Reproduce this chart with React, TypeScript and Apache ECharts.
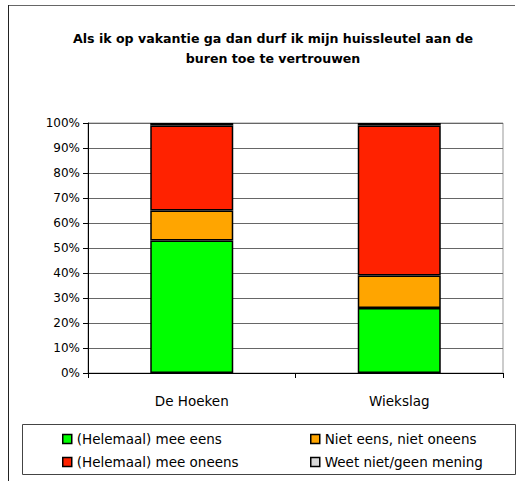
import React, { useEffect, useRef } from "react";
import * as echarts from "echarts";

const categories = ["De Hoeken", "Wiekslag"];
const eens = [53, 26];
const neutraal = [12, 13];
const oneens = [34, 60];
const weetNiet = [1, 1];
const yTicks = [0, 10, 20, 30, 40, 50, 60, 70, 80, 90, 100];

const FONT = "DejaVu Sans";

export default function App() {
  const ref = useRef<HTMLDivElement>(null);
  useEffect(() => {
    if (!ref.current) return;
    const chart = echarts.init(ref.current, null, { renderer: "svg" });
    const barStyle = (color: string) => ({
      color,
      borderColor: "#000",
      borderWidth: 1.5,
    });
    const legendText = { fontFamily: FONT, fontSize: 13.5, color: "#000" };
    chart.setOption({
      animation: false,
      backgroundColor: "#fff",
      title: {
        text: "Als ik op vakantie ga dan durf ik mijn huissleutel aan de\nburen toe te vertrouwen",
        left: 268,
        textAlign: "center",
        top: 23,
        textStyle: {
          fontFamily: FONT,
          fontSize: 12.6,
          fontWeight: "bold",
          color: "#000",
          lineHeight: 20,
        },
      },
      grid: {
        left: 88,
        right: 18,
        top: 123,
        bottom: 108,
        show: true,
        borderColor: "#999",
        borderWidth: 1,
      },
      xAxis: {
        type: "category",
        data: categories,
        axisLine: { lineStyle: { color: "#000", width: 1 } },
        axisTick: { show: true, length: 5, lineStyle: { color: "#000" } },
        axisLabel: {
          fontFamily: FONT,
          fontSize: 13.5,
          color: "#000",
          margin: 21,
        },
      },
      yAxis: {
        type: "value",
        min: yTicks[0],
        max: yTicks[yTicks.length - 1],
        interval: 10,
        axisLine: { show: true, lineStyle: { color: "#000", width: 1 } },
        axisTick: { show: true, length: 5, lineStyle: { color: "#000" } },
        axisLabel: {
          formatter: "{value}%",
          fontFamily: FONT,
          fontSize: 12,
          color: "#000",
          margin: 8,
        },
        splitLine: { lineStyle: { color: "#666", width: 1 } },
      },
      legend: [
        {
          orient: "vertical",
          left: 57,
          top: 427,
          itemWidth: 9,
          itemHeight: 9,
          itemGap: 9,
          icon: "rect",
          data: ["(Helemaal) mee eens", "(Helemaal) mee oneens"],
          textStyle: legendText,
          itemStyle: { borderColor: "#000", borderWidth: 1.5 },
        },
        {
          orient: "vertical",
          left: 305,
          top: 427,
          itemWidth: 9,
          itemHeight: 9,
          itemGap: 9,
          icon: "rect",
          data: ["Niet eens, niet oneens", "Weet niet/geen mening"],
          textStyle: legendText,
          itemStyle: { borderColor: "#000", borderWidth: 1.5 },
        },
      ],
      graphic: [
        {
          type: "line",
          shape: { x1: 8, y1: 5.5, x2: 515, y2: 5.5 },
          style: { stroke: "#666", lineWidth: 1 },
        },
        {
          type: "line",
          shape: { x1: 8.5, y1: 5, x2: 8.5, y2: 481 },
          style: { stroke: "#222", lineWidth: 1 },
        },
        {
          type: "rect",
          shape: { x: 22.5, y: 424.5, width: 493, height: 50 },
          style: { fill: "none", stroke: "#444", lineWidth: 1 },
        },
      ],
      series: [
        {
          name: "(Helemaal) mee eens",
          type: "bar",
          stack: "s",
          barWidth: "40%",
          data: eens,
          itemStyle: barStyle("#00FF00"),
        },
        {
          name: "Niet eens, niet oneens",
          type: "bar",
          stack: "s",
          data: neutraal,
          itemStyle: barStyle("#FFA500"),
        },
        {
          name: "(Helemaal) mee oneens",
          type: "bar",
          stack: "s",
          data: oneens,
          itemStyle: barStyle("#FF2200"),
        },
        {
          name: "Weet niet/geen mening",
          type: "bar",
          stack: "s",
          data: weetNiet,
          itemStyle: barStyle("#D8D8D8"),
        },
      ],
    });
    return () => chart.dispose();
  }, []);
  return (
    <div
      ref={ref}
      style={{ width: 521, height: 481, position: "absolute", left: 0, top: 0 }}
    />
  );
}
